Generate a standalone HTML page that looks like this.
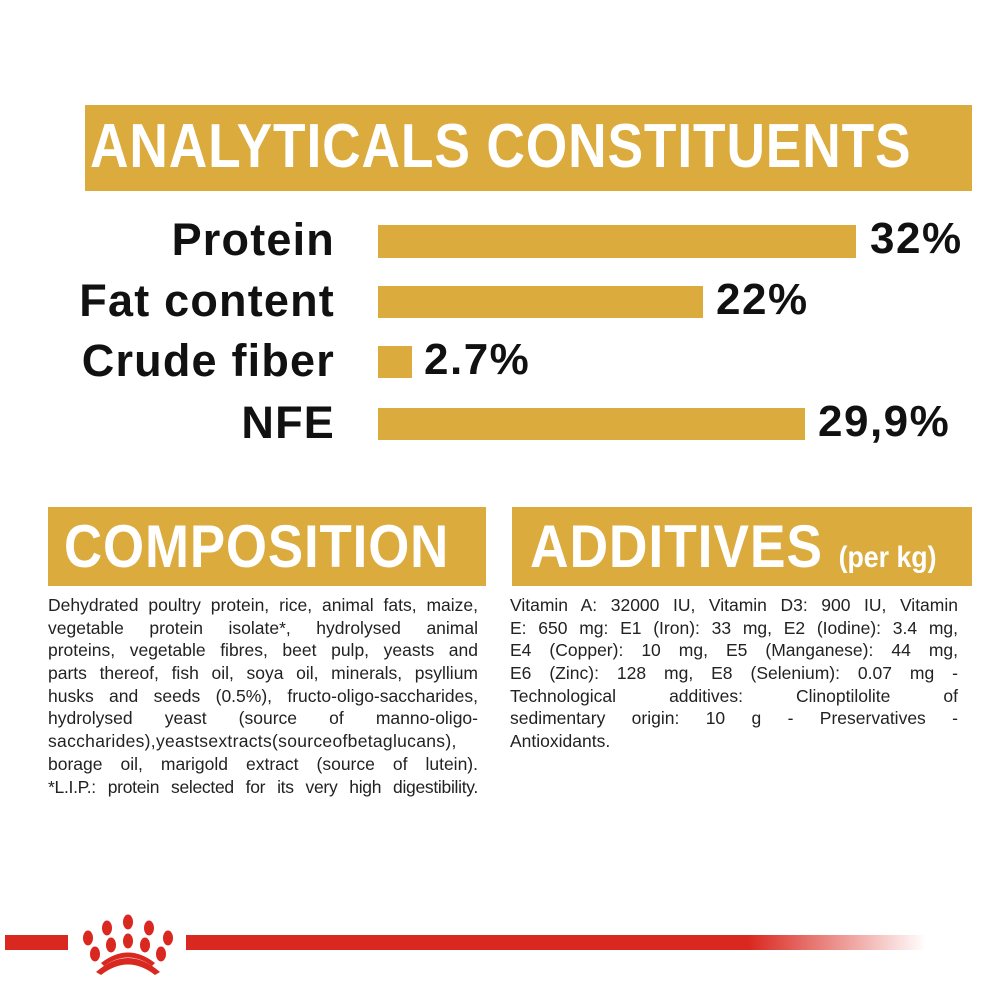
<!DOCTYPE html>
<html><head><meta charset="utf-8"><style>
body{margin:0;width:1000px;height:1000px;background:#fff;position:relative;overflow:hidden;font-family:"Liberation Sans",sans-serif}
.a{position:absolute}
.g{background:#dcab3e}
.h{color:#fff;font-weight:bold;white-space:nowrap;transform-origin:left center}
.lab{position:absolute;right:665px;font-weight:bold;font-size:45px;letter-spacing:1.2px;color:#111;white-space:nowrap}
.val{position:absolute;font-weight:bold;font-size:44px;letter-spacing:1.5px;color:#111;white-space:nowrap}
.txt{position:absolute;font-size:17.5px;line-height:22.7px;color:#222}
.txt div{text-align:justify;text-align-last:justify;white-space:nowrap;height:22.7px}
.txt div.l{text-align-last:left}
</style></head><body>
<div class="a g" style="left:85px;top:105px;width:887px;height:86px"></div>
<div class="a h" style="left:90px;top:112px;font-size:62px;line-height:70px;letter-spacing:1px;transform:scaleX(0.86)">ANALYTICALS CONSTITUENTS</div>

<div class="lab" style="top:214px">Protein</div>
<div class="a g" style="left:378px;top:225px;width:478px;height:33px"></div>
<div class="val" style="left:870px;top:214px">32%</div>

<div class="lab" style="top:275px">Fat content</div>
<div class="a g" style="left:378px;top:286px;width:325px;height:32px"></div>
<div class="val" style="left:716px;top:275px">22%</div>

<div class="lab" style="top:335px">Crude fiber</div>
<div class="a g" style="left:378px;top:346px;width:34px;height:32px"></div>
<div class="val" style="left:424px;top:335px">2.7%</div>

<div class="lab" style="top:397px">NFE</div>
<div class="a g" style="left:378px;top:408px;width:427px;height:32px"></div>
<div class="val" style="left:818px;top:397px">29,9%</div>

<div class="a g" style="left:48px;top:507px;width:438px;height:79px"></div>
<div class="a h" style="left:64px;top:512px;font-size:60px;line-height:70px;letter-spacing:1px;transform:scaleX(0.88)">COMPOSITION</div>
<div class="a g" style="left:512px;top:507px;width:460px;height:79px"></div>
<div class="a h" style="left:530px;top:512px;font-size:60px;line-height:70px;letter-spacing:1px;transform:scaleX(0.89)">ADDITIVES <span style="font-size:30px;letter-spacing:0">(per kg)</span></div>

<div class="txt" style="left:48px;top:594px;width:430px">
<div>Dehydrated poultry protein, rice, animal fats, maize,</div>
<div>vegetable protein isolate*, hydrolysed animal</div>
<div>proteins, vegetable fibres, beet pulp, yeasts and</div>
<div>parts thereof, fish oil, soya oil, minerals, psyllium</div>
<div>husks and seeds (0.5%), fructo-oligo-saccharides,</div>
<div>hydrolysed yeast (source of manno-oligo-</div>
<div style="letter-spacing:0.3px">saccharides),yeastsextracts(sourceofbetaglucans),</div>
<div>borage oil, marigold extract (source of lutein).</div>
<div style="letter-spacing:-0.3px">*L.I.P.: protein selected for its very high digestibility.</div>
</div>
<div class="txt" style="left:510px;top:594px;width:448px">
<div>Vitamin A: 32000 IU, Vitamin D3: 900 IU, Vitamin</div>
<div>E: 650 mg: E1 (Iron): 33 mg, E2 (Iodine): 3.4 mg,</div>
<div>E4 (Copper): 10 mg, E5 (Manganese): 44 mg,</div>
<div>E6 (Zinc): 128 mg, E8 (Selenium): 0.07 mg -</div>
<div>Technological additives: Clinoptilolite of</div>
<div>sedimentary origin: 10 g - Preservatives -</div>
<div class="l">Antioxidants.</div>
</div>

<div class="a" style="left:5px;top:935px;width:63px;height:15px;background:#d9281f"></div>
<div class="a" style="left:186px;top:935px;width:740px;height:15px;background:linear-gradient(90deg,#d9281f 0%,#d9281f 76%,rgba(217,40,31,0) 100%)"></div>
<svg class="a" style="left:75px;top:905px" width="115" height="75" viewBox="75 905 115 75">
<g fill="#d9281f">
<ellipse cx="128" cy="922" rx="5" ry="7.5"/><ellipse cx="107" cy="928" rx="5" ry="7.5"/><ellipse cx="149" cy="928" rx="5" ry="7.5"/>
<ellipse cx="88" cy="938" rx="5" ry="7.5"/><ellipse cx="168" cy="938" rx="5" ry="7.5"/>
<ellipse cx="128" cy="941" rx="5" ry="7.5"/><ellipse cx="111" cy="945" rx="5" ry="7.5"/><ellipse cx="145" cy="945" rx="5" ry="7.5"/>
<ellipse cx="95" cy="954" rx="5" ry="7.5"/><ellipse cx="161" cy="954" rx="5" ry="7.5"/>
<path d="M96 972 Q128 944 160 972 L155 975 Q128 954 101 975Z"/>
<path d="M101 963 Q128 942 155 963 L152 966 Q128 949 104 966Z"/>
</g></svg>
</body></html>
